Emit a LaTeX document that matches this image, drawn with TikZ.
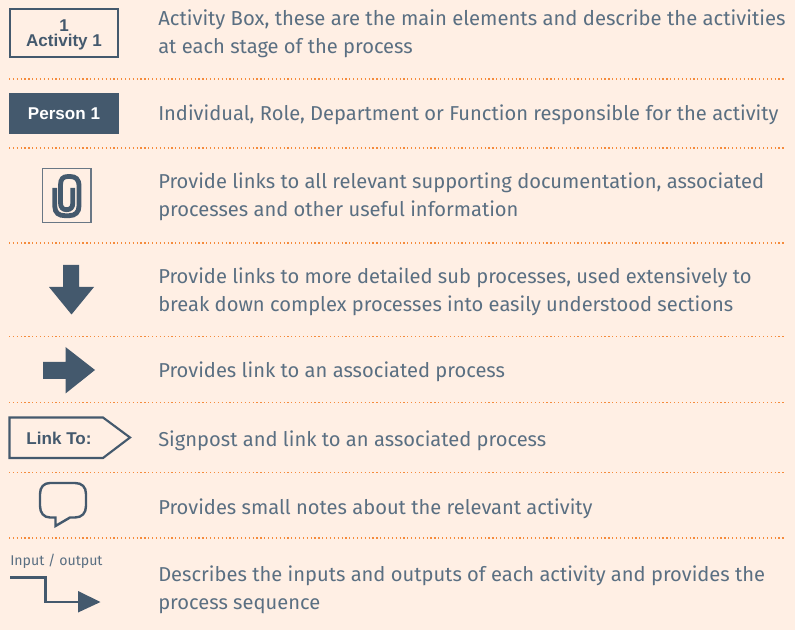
\documentclass[tikz,border=0pt]{standalone}
\usepackage{fontspec}
\setmainfont{Fira Sans}
\newfontfamily\boxfont{Liberation Sans}
\definecolor{bgc}{HTML}{FFEFE4}
\definecolor{navy}{HTML}{44596D}
\definecolor{txt}{HTML}{5A6F82}
\definecolor{sep}{HTML}{F58B3C}
\tikzset{
 desc/.style={anchor=base west,text=txt,font=\fontsize{15.09pt}{18pt}\selectfont,inner sep=0pt},
 sepline/.style={sep,line width=0.9pt,dotted},
 boxlabel/.style={font=\boxfont\bfseries\fontsize{12.8pt}{11.6pt}\selectfont,text=navy,align=center,inner sep=0pt},
 solidshape/.style={fill=navy,draw=none},
 outline/.style={draw=navy,line width=1.6pt,fill=none},
}
\begin{document}
\begin{tikzpicture}[x=0.75pt,y=-0.75pt]
\useasboundingbox[fill=bgc] (0,0) rectangle (795,630);
% separators
\foreach \n/\y in {a/79,b/148,c/243,d/336.5,e/402.7,f/472.3,g/538}{
 \coordinate (sl\n) at (9,\y); \coordinate (sr\n) at (786,\y);
 \draw[sepline] (sl\n) -- (sr\n);
}
% row 1
\node[draw=navy,line width=1.5pt,minimum width=108.5pt*0.75,minimum height=48pt*0.75,inner sep=0pt] (activity) at (64,33.5) {};
\node[boxlabel] (activitytext) at (64,35) {1\\Activity 1};
\node[desc,font=\fontsize{15.18pt}{18pt}\selectfont] (t1a) at (158,26) {Activity Box, these are the main elements and describe the activities};
\node[desc] (t1b) at (158,54) {at each stage of the process};
% row 2
\node[fill=navy,minimum width=110pt*0.75,minimum height=41pt*0.75,inner sep=0pt,boxlabel,text=white] (person) at (64,113.5) {Person 1};
\node[desc] (t2) at (158,121) {Individual, Role, Department or Function responsible for the activity};
% row 3 : clip
\draw[navy!80!bgc,line width=0.9pt] (42.5,168.5) rectangle (91,222.5);
\draw[navy,line width=3.6pt,line cap=butt]
 (54.8,188) -- (54.8,206.5) .. controls (54.8,213) and (59,215.7) .. (65,215.7)
 -- (69,215.7) .. controls (75.5,215.7) and (79,212) .. (79,206)
 -- (79,186) .. controls (79,179) and (75.5,176.5) .. (70,176.5)
 -- (68,176.5) .. controls (63,176.5) and (60.5,179) .. (60.5,185)
 -- (60.5,203) .. controls (60.5,207.5) and (63,209.7) .. (66.5,209.7)
 .. controls (70.5,209.7) and (72.8,207.5) .. (72.8,203) -- (72.8,188);
\node[desc] (t3a) at (158,189) {Provide links to all relevant supporting documentation, associated};
\node[desc] (t3b) at (158,216.5) {processes and other useful information};
% row 4 : down arrow
\fill[solidshape] (63,265) -- (79,265) -- (79,287) -- (94,287) -- (71.5,314.5) -- (49,287) -- (63,287) -- cycle;
\node[desc] (t4a) at (158,284) {Provide links to more detailed sub processes, used extensively to};
\node[desc] (t4b) at (158,312) {break down complex processes into easily understood sections};
% row 5 : right arrow
\fill[solidshape] (43,362) -- (65.5,362) -- (65.5,347) -- (95,370) -- (65.5,393.5) -- (65.5,379) -- (43,379) -- cycle;
\node[desc] (t5) at (158,378) {Provides link to an associated process};
% row 6 : signpost
\draw[outline] (9.5,417.5) -- (103,417.5) -- (130,437.5) -- (103,458) -- (9.5,458) -- cycle;
\node[boxlabel] (linkto) at (59,438) {Link To:};
\node[desc] (t6) at (158,446) {Signpost and link to an associated process};
% row 7 : callout
\draw[navy,line width=1.8pt,line join=miter] (50,483) -- (75,483) .. controls (82,483) and (86,487) .. (86,494)
 -- (86,506) .. controls (86,513) and (82,517.5) .. (75,517.5) -- (70,517.5) -- (55.5,526) -- (55.5,517.5) -- (50,517.5)
 .. controls (44,517.5) and (40,513) .. (40,506) -- (40,494) .. controls (40,487) and (44,483) .. (50,483) -- cycle;
\node[desc] (t7) at (158,514) {Provides small notes about the relevant activity};
% row 8 : input/output
\node[anchor=base west,inner sep=0pt,text=txt,font=\fontsize{10.6pt}{11pt}\selectfont] (iolabel) at (10,565.5) {Input / output};
\coordinate (iostart) at (10,577.5);
\draw[navy,line width=1.9pt] (iostart) -- (45.5,577.5) -- (45.5,602) -- (80,602);
\fill[solidshape] (78,591) -- (100.5,602) -- (78,612.5) -- cycle;
\node[desc] (t8a) at (158,581) {Describes the inputs and outputs of each activity and provides the};
\node[desc] (t8b) at (158,609.5) {process sequence};
\end{tikzpicture}
\end{document}
